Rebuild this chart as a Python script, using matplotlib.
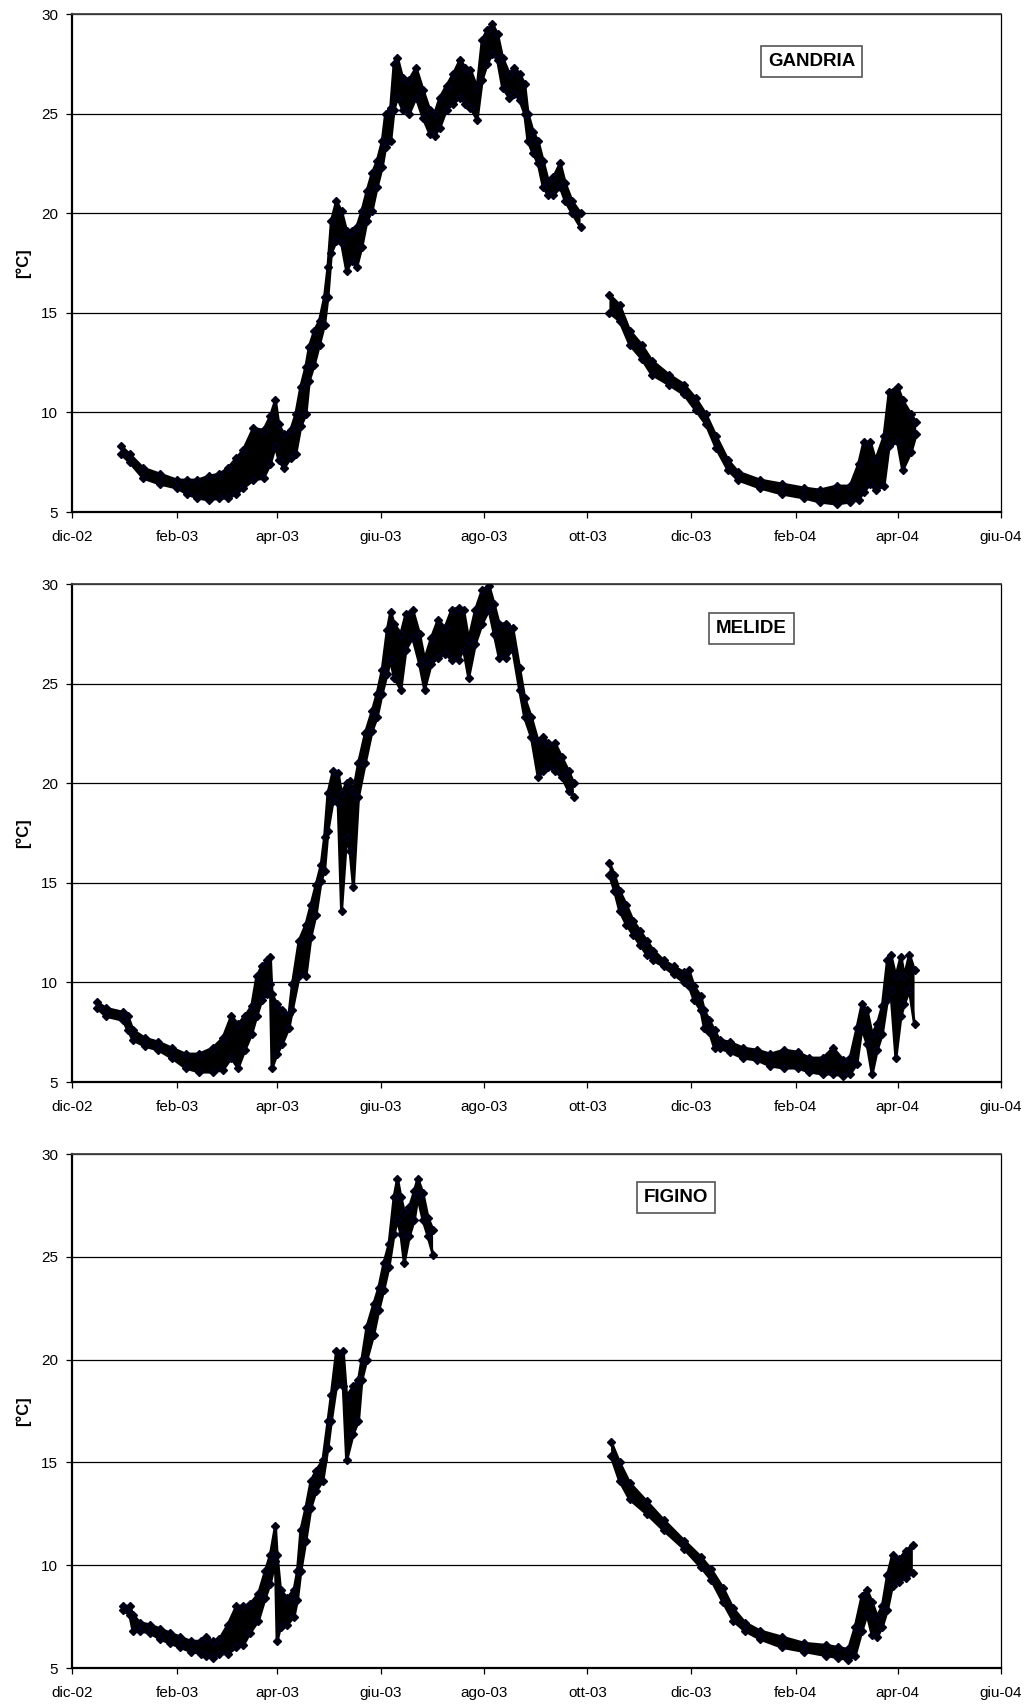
import numpy as np
import matplotlib
matplotlib.use('Agg')
import matplotlib.pyplot as plt
import matplotlib.dates as mdates

nan = float('nan')

# giorni dal 1 dicembre 2002, temperatura massima e minima della fascia
gandria_giorni = [29, 34, 42, 52, 62, 68, 74, 81, 87, 92, 97, 101, 107, 113, 117, 120, 122, 125, 129, 132,
                  135, 138, 140, 143, 146, 149, 151, 153, 156, 159, 162, 165, 168, 171, 174, 177, 180, 183, 185, 188,
                  190, 192, 195, 199, 203, 207, 211, 214, 217, 221, 225, 229, 232, 235, 239, 242, 245, 248, 251, 254,
                  258, 261, 264, 267, 269, 272, 275, 278, 281, 284, 288, 291, 295, 300,
                  310,
                  317, 323, 329, 336, 342, 352, 361, 368, 374, 380, 387, 393, 406, 419, 432, 441, 451, 459, 464, 467,
                  471, 474, 479, 482, 487, 490, 495, 498]
gandria_alto = [8.3, 7.9, 7.2, 6.9, 6.6, 6.6, 6.6, 6.8, 6.9, 7.2, 7.7, 8.1, 9.2, 9.1, 9.8, 10.6, 9.4, 8.9, 9.1, 9.9,
                11.3, 12.3, 13.3, 14.1, 14.6, 15.8, 17.3, 19.6, 20.6, 20.1, 19.1, 19.1, 19.3, 20.1, 21.1, 22.0, 22.6, 23.6, 25.0, 25.3,
                27.5, 27.8, 26.8, 26.7, 27.3, 26.2, 25.2, 25.0, 25.8, 26.4, 27.0, 27.7, 27.3, 27.2, 26.3, 28.7, 29.2, 29.5, 29.0, 27.8,
                27.0, 27.3, 27.0, 26.5, 25.0, 24.1, 23.6, 22.6, 21.6, 21.8, 22.5, 21.5, 20.6, 20.0,
                nan,
                15.9, 15.4, 14.1, 13.4, 12.6, 11.9, 11.4, 10.7, 9.9, 8.8, 7.6, 7.0, 6.6, 6.4, 6.2, 6.1, 6.3, 6.3, 7.4, 8.5,
                8.5, 7.6, 8.8, 11.0, 11.3, 10.6, 9.9, 9.5]
gandria_basso = [7.9, 7.5, 6.7, 6.4, 6.2, 5.9, 5.7, 5.6, 5.7, 5.7, 5.9, 6.2, 6.6, 6.7, 7.4, 8.3, 7.6, 7.2, 7.7, 7.9,
                 9.3, 9.9, 11.6, 12.4, 13.4, 14.4, 15.8, 18.0, 18.6, 18.5, 17.1, 17.6, 17.3, 18.3, 19.6, 20.1, 21.3, 22.3, 23.3, 23.6,
                 25.2, 25.8, 25.2, 25.0, 25.8, 24.8, 24.0, 23.9, 24.3, 25.2, 25.5, 25.8, 25.5, 25.3, 24.7, 26.7, 27.5, 28.0, 27.7, 26.3,
                 25.8, 26.0, 25.7, 25.0, 23.6, 23.0, 22.5, 21.3, 20.9, 20.9, 21.3, 20.6, 20.0, 19.3,
                 nan,
                 15.0, 14.6, 13.4, 12.7, 11.9, 11.4, 10.9, 10.1, 9.4, 8.2, 7.1, 6.6, 6.2, 5.9, 5.7, 5.5, 5.4, 5.5, 5.6, 6.0,
                 6.4, 6.1, 6.3, 8.3, 8.5, 7.1, 8.0, 8.9]

melide_giorni = [15, 20, 30, 33, 36, 43, 51, 59, 67, 75, 83, 89, 94, 98, 102, 106, 109, 112, 115, 117,
                 118, 121, 124, 128, 130, 134, 138, 141, 144, 147, 149, 151, 154, 157, 159, 162, 164, 166, 169, 173,
                 177, 180, 183, 186, 188, 190, 194, 197, 201, 205, 208, 212, 216, 220, 224, 228, 231, 234, 238, 242,
                 246, 249, 252, 256, 260, 264, 267, 271, 275, 278, 281, 285, 289, 293, 296,
                 306,
                 317, 320, 323, 327, 331, 335, 339, 343, 349, 355, 361, 364, 367, 371, 373, 376, 379, 382, 388, 396,
                 404, 412, 420, 428, 435, 443, 449, 455, 459, 463, 466, 469, 472, 475, 478, 481, 483, 486, 489, 491,
                 494, 497]
melide_alto = [9.0, 8.7, 8.5, 8.3, 7.6, 7.2, 7.0, 6.7, 6.4, 6.4, 6.7, 7.2, 8.3, 7.9, 8.3, 8.8, 10.3, 10.8, 11.1, 11.3,
               9.4, 8.9, 8.6, 8.4, 9.9, 12.1, 12.9, 13.9, 14.9, 15.9, 17.3, 19.5, 20.6, 20.5, 19.5, 20.0, 20.1, 19.6, 21.0, 22.5,
               23.6, 24.5, 25.7, 27.7, 28.6, 28.0, 27.5, 28.5, 28.7, 27.5, 26.2, 27.3, 28.2, 27.8, 28.7, 28.8, 28.7, 27.2, 28.7, 29.7,
               29.9, 29.0, 28.0, 28.0, 27.8, 25.8, 24.3, 23.3, 22.1, 22.3, 22.0, 22.0, 21.3, 20.6, 20.0,
               nan,
               16.0, 15.4, 14.6, 13.9, 13.1, 12.6, 12.1, 11.6, 11.1, 10.8, 10.5, 10.6, 9.8, 9.3, 8.6, 8.1, 7.6, 7.1, 7.0, 6.7,
               6.6, 6.4, 6.6, 6.5, 6.2, 6.2, 6.7, 6.1, 6.2, 7.7, 8.9, 8.6, 7.4, 7.9, 8.8, 11.1, 11.4, 10.3, 11.3, 10.3,
               11.4, 10.6]
melide_basso = [8.7, 8.3, 8.1, 7.6, 7.1, 6.8, 6.6, 6.2, 5.7, 5.5, 5.5, 5.6, 6.2, 5.7, 6.6, 7.4, 8.3, 9.1, 9.4, 9.9,
                5.7, 6.4, 6.9, 7.7, 8.6, 10.3, 10.3, 12.3, 13.4, 15.1, 15.6, 17.6, 19.1, 19.0, 13.6, 17.3, 16.6, 14.8, 19.3, 21.0,
                22.6, 23.3, 24.5, 25.5, 26.2, 25.3, 24.7, 26.7, 27.3, 26.0, 24.7, 26.0, 26.3, 26.5, 26.2, 26.2, 26.7, 25.3, 27.0, 28.0,
                28.7, 27.5, 26.3, 26.3, 26.7, 24.7, 23.3, 22.3, 20.3, 20.6, 20.8, 20.6, 20.3, 19.6, 19.3,
                nan,
                15.4, 14.6, 13.6, 12.9, 12.4, 11.9, 11.4, 11.1, 10.8, 10.4, 10.0, 9.8, 9.1, 8.6, 7.7, 7.5, 6.7, 6.7, 6.5, 6.2,
                6.1, 5.8, 5.7, 5.7, 5.5, 5.4, 5.4, 5.3, 5.4, 5.9, 7.7, 6.9, 5.4, 6.6, 7.4, 9.1, 9.6, 6.2, 8.3, 8.9,
                9.6, 7.9]

figino_giorni = [30, 34, 36, 40, 46, 52, 58, 64, 70, 76, 79, 83, 87, 92, 97, 101, 105, 110, 114, 117,
                 120, 121, 123, 127, 131, 133, 135, 138, 141, 144, 148, 151, 153, 156, 160, 162, 166, 169, 171, 174,
                 178, 181, 184, 187, 190, 192, 194, 196, 199, 202, 204, 207, 210, 213,
                 260,
                 318, 323, 329, 339, 349, 361, 371, 377, 384, 390, 397, 406, 419, 432, 445, 452, 458, 462, 466, 469,
                 472, 475, 478, 481, 484, 488, 492, 496]
figino_alto = [8.0, 8.0, 7.6, 7.2, 7.1, 6.9, 6.7, 6.5, 6.3, 6.3, 6.5, 6.3, 6.4, 7.1, 8.0, 8.0, 8.1, 8.6, 9.7, 10.5,
               11.9, 10.5, 8.8, 8.4, 8.8, 9.7, 11.7, 12.8, 14.1, 14.6, 15.1, 17.0, 18.3, 20.4, 20.4, 18.2, 18.7, 19.0, 20.0, 21.6,
               22.7, 23.5, 24.7, 25.6, 27.9, 28.8, 27.9, 27.2, 27.4, 28.2, 28.8, 28.1, 26.9, 26.3,
               nan,
               16.0, 15.0, 14.0, 13.1, 12.2, 11.2, 10.4, 9.8, 8.9, 7.9, 7.2, 6.8, 6.5, 6.2, 6.1, 6.0, 5.9, 7.0, 8.5, 8.8,
               8.2, 7.5, 8.0, 9.5, 10.5, 10.3, 10.7, 11.0]
figino_basso = [7.8, 7.6, 6.8, 6.8, 6.7, 6.4, 6.2, 6.0, 5.8, 5.7, 5.6, 5.5, 5.7, 5.7, 6.0, 6.1, 6.7, 7.3, 8.4, 9.1,
                10.2, 6.3, 7.0, 7.1, 7.5, 8.3, 9.7, 11.2, 12.8, 13.6, 14.1, 15.7, 17.0, 18.7, 18.7, 15.1, 16.4, 17.0, 19.0, 20.0,
                21.2, 22.4, 23.4, 24.5, 26.1, 26.8, 26.1, 24.7, 26.0, 26.8, 27.9, 26.8, 26.0, 25.1,
                nan,
                15.3, 14.1, 13.2, 12.5, 11.7, 10.8, 9.9, 9.3, 8.2, 7.3, 6.8, 6.4, 6.0, 5.8, 5.6, 5.5, 5.4, 5.6, 6.8, 7.6,
                6.6, 6.5, 7.0, 7.8, 9.0, 9.2, 9.4, 9.6]

stazioni = ['GANDRIA', 'MELIDE', 'FIGINO']

tick_date = ['2002-12-01', '2003-02-01', '2003-04-01', '2003-06-01', '2003-08-01', '2003-10-01',
             '2003-12-01', '2004-02-01', '2004-04-01', '2004-06-01']
tick_etichette = ['dic-02', 'feb-03', 'apr-03', 'giu-03', 'ago-03', 'ott-03',
                  'dic-03', 'feb-04', 'apr-04', 'giu-04']

plt.rcParams['font.family'] = ['Liberation Sans', 'DejaVu Sans']

W, H = 1031, 1704
fig = plt.figure(figsize=(W / 100, H / 100), dpi=100)

# posizioni in pixel: (alto, basso) di ogni riquadro
riquadri = [(14, 512), (584, 1082), (1154, 1668)]
etichette_pos = [(0.796, 0.904), (0.731, 0.910), (0.650, 0.916)]
dati = [(gandria_giorni, gandria_alto, gandria_basso),
        (melide_giorni, melide_alto, melide_basso),
        (figino_giorni, figino_alto, figino_basso)]

inizio = mdates.date2num(np.datetime64('2002-12-01'))
xt = [mdates.date2num(np.datetime64(d)) for d in tick_date]

for i, (top, bot) in enumerate(riquadri):
    ax = fig.add_axes([72 / W, 1 - bot / H, 929 / W, (bot - top) / H])
    giorni, alto, basso = dati[i]
    x = inizio + np.array(giorni, dtype=float)
    alto = np.array(alto)
    basso = np.array(basso)
    ax.fill_between(x, basso, alto, color='black', lw=0, zorder=3)
    ax.plot(x, alto, '-D', color='black', mec='#000022', ms=4, lw=2.2, zorder=4)
    ax.plot(x, basso, '-D', color='black', mec='#000022', ms=4, lw=2.2, zorder=4)

    ax.set_xlim(xt[0], xt[-1])
    ax.set_ylim(5, 30)
    ax.set_yticks([5, 10, 15, 20, 25, 30])
    ax.set_xticks(xt)
    ax.set_xticklabels(tick_etichette)
    ax.yaxis.grid(True, color='black', lw=0.9)
    ax.set_axisbelow(True)
    ax.tick_params(axis='both', direction='out', length=4, width=0.9, labelsize=11)
    ax.tick_params(axis='y', pad=6)
    ax.tick_params(axis='x', pad=9)

    for s in ['left', 'bottom']:
        ax.spines[s].set_linewidth(1.6)
        ax.spines[s].set_color('black')
    ax.spines['top'].set_linewidth(1.3)
    ax.spines['top'].set_color('#404040')
    ax.spines['right'].set_linewidth(0.9)
    ax.spines['right'].set_color('black')

    ax.set_ylabel('[°C]', fontsize=12, fontweight='bold')
    ax.yaxis.set_label_coords(-41 / 929, 0.5)

    ex, ey = etichette_pos[i]
    ax.text(ex, ey, stazioni[i], transform=ax.transAxes, ha='center', va='center',
            fontsize=13.5, fontweight='bold', zorder=6,
            bbox=dict(boxstyle='square,pad=0.38', fc='white', ec='#555555', lw=1.2))

fig.savefig('out.png', dpi=100)
